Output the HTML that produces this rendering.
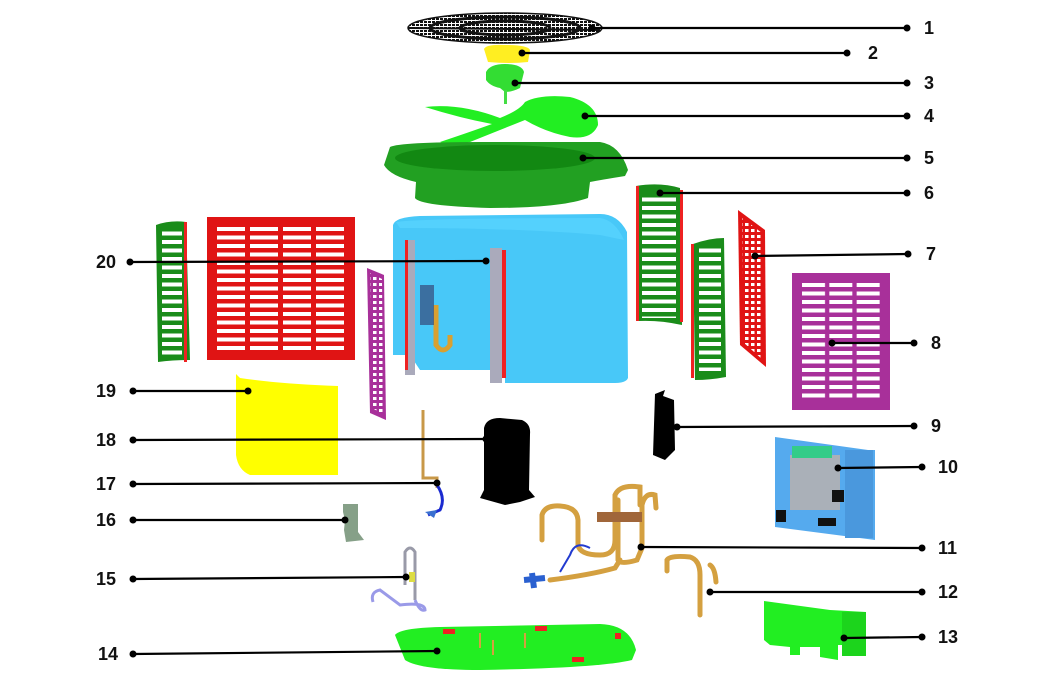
<!DOCTYPE html>
<html><head><meta charset="utf-8"><style>
html,body{margin:0;padding:0;background:#fff}
svg{display:block}
text{font-family:"Liberation Sans","DejaVu Sans",sans-serif;font-weight:bold;font-size:18px;fill:#111}
</style></head><body>
<svg width="1047" height="690" viewBox="0 0 1047 690" xmlns="http://www.w3.org/2000/svg">
<defs>
<pattern id="slatF" width="400" height="8.5" patternUnits="userSpaceOnUse"><rect x="0" y="2" width="400" height="4" fill="#fff"/></pattern>
<pattern id="slatR" x="215" y="225" width="33" height="8.5" patternUnits="userSpaceOnUse"><rect x="2" y="2" width="28" height="4" fill="#fff"/></pattern>
<pattern id="slatP" x="800" y="281" width="27.33" height="8.5" patternUnits="userSpaceOnUse"><rect x="2" y="2" width="23" height="4" fill="#fff"/></pattern>
<pattern id="holes" width="6" height="6" patternUnits="userSpaceOnUse"><rect x="1" y="1" width="3.5" height="3" fill="#fff"/></pattern>
<pattern id="grill" width="4" height="3" patternUnits="userSpaceOnUse"><rect width="3" height="2" fill="#111"/></pattern>
</defs>

<!-- 1 fan guard -->
<ellipse cx="505" cy="28" rx="97" ry="15" fill="url(#grill)"/>
<ellipse cx="505" cy="28" rx="75" ry="11" fill="none" stroke="#111" stroke-width="3"/>
<ellipse cx="505" cy="28" rx="45" ry="7" fill="none" stroke="#111" stroke-width="3"/>
<ellipse cx="505" cy="28" rx="97" ry="15" fill="none" stroke="#111" stroke-width="1.5"/>
<line x1="410" y1="28" x2="600" y2="30" stroke="#111" stroke-width="2"/>
<!-- 2 motor bracket -->
<path d="M484 49 Q486 44 505 45 Q528 45 530 50 L528 62 Q510 64 488 62 Z" fill="#ffee22"/>
<!-- 3 motor -->
<path d="M486 72 Q490 64 505 64 Q522 64 524 72 L520 88 Q512 92 505 92 L500 88 Q490 86 486 80 Z" fill="#33dd33"/>
<rect x="504" y="90" width="3" height="14" fill="#44dd44"/>
<!-- 4 fan blade -->
<path d="M425 107 Q460 103 500 118 Q520 110 525 102 Q540 94 570 97 Q598 104 598 125 Q592 140 570 137 Q545 132 525 120 Q505 128 470 142 Q450 146 440 142 Q470 132 492 124 Q460 118 425 107 Z" fill="#22ee22"/>
<!-- 5 fan shroud -->
<path d="M390 147 Q400 142 480 142 L600 142 Q620 145 628 170 L625 176 Q600 180 590 182 L588 198 Q560 208 490 208 Q420 206 415 198 L416 182 Q390 176 384 165 Z" fill="#22a022"/>
<ellipse cx="495" cy="158" rx="100" ry="13" fill="#128812"/>
<!-- 20 coil -->
<path d="M393 225 Q395 217 420 216 L600 214 Q618 214 627 232 L628 378 Q626 383 615 383 L505 383 L505 370 L420 370 L410 355 L393 355 Z" fill="#48c8f8"/>
<path d="M396 222 Q420 218 600 218 Q615 220 624 240 L600 235 Q520 228 400 228 Z" fill="#5ad4ff" opacity=".7"/>
<rect x="405" y="240" width="10" height="135" fill="#aab"/>
<rect x="405" y="240" width="3" height="130" fill="#e22"/>
<rect x="490" y="248" width="12" height="135" fill="#aab"/>
<rect x="502" y="250" width="4" height="128" fill="#e22"/>
<path d="M436 305 L436 345 Q443 355 450 345 L450 335" fill="none" stroke="#d9a030" stroke-width="5"/>
<rect x="420" y="285" width="14" height="40" fill="#336" opacity=".6"/>
<!-- 20 left green panel -->
<path d="M156 225 Q170 220 186 222 L190 360 Q172 360 158 362 Z" fill="#1a8c1a"/>
<rect x="162" y="228" width="20" height="128" fill="url(#slatF)"/>
<rect x="184" y="222" width="3" height="140" fill="#e22"/>
<!-- red panel -->
<rect x="207" y="217" width="148" height="143" fill="#e01414"/>
<rect x="215" y="225" width="132" height="127" fill="url(#slatR)"/>
<!-- purple thin -->
<path d="M367 268 L384 275 L386 420 L370 413 Z" fill="#a8309a"/>
<path d="M370 273 L382 279 L383 414 L372 408 Z" fill="url(#holes)"/>
<!-- 6 green panel -->
<path d="M636 186 Q660 182 680 188 L682 325 Q660 320 638 321 Z" fill="#1a8c1a"/>
<rect x="642" y="193" width="34" height="125" fill="url(#slatF)"/>
<rect x="636" y="186" width="3" height="135" fill="#e22"/>
<rect x="680" y="190" width="3" height="132" fill="#e22"/>
<!-- 7 green panel 2 -->
<path d="M693 244 Q710 238 724 238 L726 377 Q710 380 695 380 Z" fill="#1a8c1a"/>
<rect x="699" y="246" width="22" height="125" fill="url(#slatF)"/>
<rect x="691" y="244" width="3" height="134" fill="#e22"/>
<!-- 7 red skewed -->
<path d="M738 210 L765 230 L766 367 L740 345 Z" fill="#e01414"/>
<path d="M742 218 L762 233 L763 360 L743 342 Z" fill="url(#holes)"/>
<!-- 8 purple -->
<rect x="792" y="273" width="98" height="137" fill="#a8309a"/>
<rect x="800" y="281" width="82" height="121" fill="url(#slatP)"/>
<!-- 19 yellow -->
<path d="M236 374 L240 378 Q280 384 338 386 L338 475 L250 475 Q238 470 236 455 Z" fill="#ffff00"/>
<!-- 18 compressor -->
<path d="M484 428 Q486 418 500 418 L522 420 Q531 424 530 434 L529 490 L535 497 L520 502 L505 505 L480 498 L484 490 Z" fill="#000"/>
<!-- 17 pipe -->
<path d="M423 410 L423 478 L437 478 L437 488" fill="none" stroke="#c89848" stroke-width="3"/>
<path d="M437 485 Q446 498 440 510 L428 515" fill="none" stroke="#1a2ad0" stroke-width="3"/>
<path d="M425 512 L437 510 L434 518 Z" fill="#3a70d0"/>
<!-- 16 bracket -->
<path d="M343 504 L358 504 L358 532 L364 540 L346 542 L344 530 L345 520 L343 512 Z" fill="#86a088"/>
<!-- 15 valve -->
<path d="M405 585 L405 552 Q410 544 415 552 L415 600" fill="none" stroke="#999aa8" stroke-width="3"/>
<path d="M415 600 Q420 612 425 610 Q425 602 400 605 L380 590 Q370 592 373 602" fill="none" stroke="#9a9ae8" stroke-width="3"/>
<rect x="409" y="572" width="6" height="10" fill="#dd4"/>
<!-- 9 accumulator -->
<path d="M655 394 L665 390 L663 396 L674 400 L675 450 L665 460 L653 455 Z" fill="#000"/>
<!-- 10 control box -->
<path d="M775 437 L868 450 L875 450 L875 540 L775 527 Z" fill="#55aaee"/>
<rect x="845" y="450" width="28" height="88" fill="#4a98dd"/>
<rect x="790" y="455" width="50" height="55" fill="#aab0b8"/>
<rect x="792" y="446" width="40" height="12" fill="#3c8"/>
<rect x="776" y="510" width="10" height="12" fill="#111"/>
<rect x="832" y="490" width="12" height="12" fill="#111"/>
<rect x="818" y="518" width="18" height="8" fill="#111"/>
<!-- 11 piping -->
<g fill="none" stroke="#d4a040" stroke-width="5" stroke-linecap="round">
<path d="M542 540 L542 515 Q545 505 560 506 Q577 507 578 520 L578 545 Q580 555 600 555 Q615 555 615 540 L615 495 Q620 484 640 487 L640 505"/>
<path d="M618 500 L618 560 Q620 565 637 560 L642 548 L642 505 Q645 492 655 495 L656 508"/>
<path d="M550 580 Q590 575 615 568 L620 560"/>
</g>
<rect x="597" y="512" width="45" height="10" fill="#a0663a"/>
<path d="M590 548 Q575 540 570 555 L560 572" fill="none" stroke="#223bd0" stroke-width="2"/>
<path d="M524 580 L545 578 M532 573 L534 588" stroke="#2a60d0" stroke-width="6"/>
<!-- 12 pipe -->
<path d="M667 571 L667 560 Q670 555 690 557 Q700 560 700 575 L700 615 M710 565 Q715 568 716 582" fill="none" stroke="#d4a040" stroke-width="5" stroke-linecap="round"/>
<!-- 13 panel -->
<path d="M764 601 L830 610 L866 612 L866 653 L848 656 L848 645 L838 645 L838 660 L820 657 L820 647 L800 647 L800 655 L790 655 L790 647 L770 645 L764 640 Z" fill="#22ee22"/>
<rect x="842" y="612" width="24" height="44" fill="#1cd41c"/>
<!-- 14 base -->
<path d="M395 635 Q400 628 440 627 L600 624 Q630 625 636 650 L632 660 Q600 668 480 670 Q420 670 405 660 Z" fill="#22ee22"/>
<rect x="443" y="629" width="12" height="5" fill="#e22"/>
<rect x="535" y="626" width="12" height="5" fill="#e22"/>
<rect x="572" y="657" width="12" height="5" fill="#e22"/>
<rect x="615" y="633" width="6" height="6" fill="#e22"/>
<g stroke="#d4a040" stroke-width="2"><line x1="480" y1="633" x2="480" y2="648"/><line x1="493" y1="640" x2="493" y2="655"/><line x1="525" y1="633" x2="525" y2="648"/></g>

<!-- leader lines -->
<g stroke="#000" stroke-width="2.2" fill="none">
<line x1="592" y1="28" x2="907" y2="28"/>
<line x1="522" y1="53" x2="847" y2="53"/>
<line x1="515" y1="83" x2="907" y2="83"/>
<line x1="585" y1="116" x2="907" y2="116"/>
<line x1="583" y1="158" x2="907" y2="158"/>
<line x1="660" y1="193" x2="907" y2="193"/>
<line x1="755" y1="256" x2="908" y2="254"/>
<line x1="832" y1="343" x2="914" y2="343"/>
<line x1="677" y1="427" x2="914" y2="426"/>
<line x1="838" y1="468" x2="922" y2="467"/>
<line x1="641" y1="547" x2="922" y2="548"/>
<line x1="710" y1="592" x2="922" y2="592"/>
<line x1="844" y1="638" x2="922" y2="637"/>
<line x1="130" y1="262" x2="486" y2="261"/>
<line x1="133" y1="391" x2="248" y2="391"/>
<line x1="133" y1="440" x2="486" y2="439"/>
<line x1="133" y1="484" x2="437" y2="483"/>
<line x1="133" y1="520" x2="345" y2="520"/>
<line x1="133" y1="579" x2="406" y2="577"/>
<line x1="133" y1="654" x2="437" y2="651"/>
</g>
<g fill="#000">
<circle cx="592" cy="28" r="3.5"/><circle cx="907" cy="28" r="3.5"/>
<circle cx="522" cy="53" r="3.5"/><circle cx="847" cy="53" r="3.5"/>
<circle cx="515" cy="83" r="3.5"/><circle cx="907" cy="83" r="3.5"/>
<circle cx="585" cy="116" r="3.5"/><circle cx="907" cy="116" r="3.5"/>
<circle cx="583" cy="158" r="3.5"/><circle cx="907" cy="158" r="3.5"/>
<circle cx="660" cy="193" r="3.5"/><circle cx="907" cy="193" r="3.5"/>
<circle cx="755" cy="256" r="3.5"/><circle cx="908" cy="254" r="3.5"/>
<circle cx="832" cy="343" r="3.5"/><circle cx="914" cy="343" r="3.5"/>
<circle cx="677" cy="427" r="3.5"/><circle cx="914" cy="426" r="3.5"/>
<circle cx="838" cy="468" r="3.5"/><circle cx="922" cy="467" r="3.5"/>
<circle cx="641" cy="547" r="3.5"/><circle cx="922" cy="548" r="3.5"/>
<circle cx="710" cy="592" r="3.5"/><circle cx="922" cy="592" r="3.5"/>
<circle cx="844" cy="638" r="3.5"/><circle cx="922" cy="637" r="3.5"/>
<circle cx="130" cy="262" r="3.5"/><circle cx="486" cy="261" r="3.5"/>
<circle cx="133" cy="391" r="3.5"/><circle cx="248" cy="391" r="3.5"/>
<circle cx="133" cy="440" r="3.5"/><circle cx="486" cy="439" r="3.5"/>
<circle cx="133" cy="484" r="3.5"/><circle cx="437" cy="483" r="3.5"/>
<circle cx="133" cy="520" r="3.5"/><circle cx="345" cy="520" r="3.5"/>
<circle cx="133" cy="579" r="3.5"/><circle cx="406" cy="577" r="3.5"/>
<circle cx="133" cy="654" r="3.5"/><circle cx="437" cy="651" r="3.5"/>
</g>
<!-- labels -->
<text x="924" y="34">1</text>
<text x="868" y="59">2</text>
<text x="924" y="89">3</text>
<text x="924" y="122">4</text>
<text x="924" y="164">5</text>
<text x="924" y="199">6</text>
<text x="926" y="260">7</text>
<text x="931" y="349">8</text>
<text x="931" y="432">9</text>
<text x="938" y="473">10</text>
<text x="938" y="554">11</text>
<text x="938" y="598">12</text>
<text x="938" y="643">13</text>
<text x="96" y="268">20</text>
<text x="96" y="397">19</text>
<text x="96" y="446">18</text>
<text x="96" y="490">17</text>
<text x="96" y="526">16</text>
<text x="96" y="585">15</text>
<text x="98" y="660">14</text>
</svg>
</body></html>
